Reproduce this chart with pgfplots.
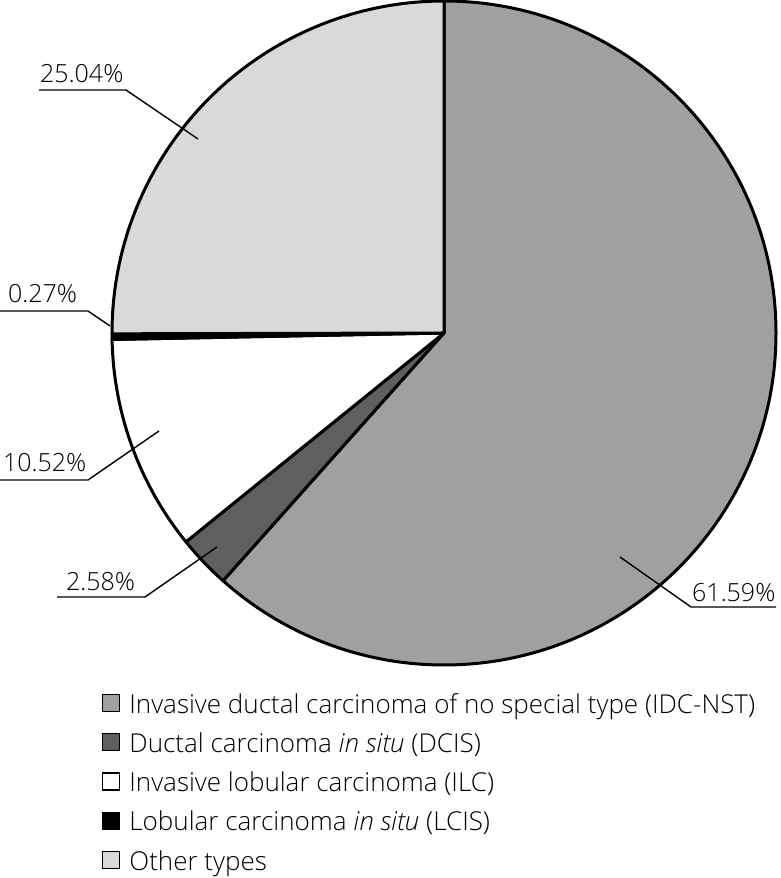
\documentclass[border=0pt]{standalone}
\usepackage{pgfplots}
\pgfplotsset{compat=1.18}
\usepackage{pgfplotstable}
\usepackage{fontspec}
\setmainfont{Open Sans}[UprightFont=* Light, ItalicFont=* Light Italic]

\definecolor{cIDC}{HTML}{A0A0A0}
\definecolor{cDCIS}{HTML}{5F5F5F}
\definecolor{cILC}{HTML}{FFFFFF}
\definecolor{cLCIS}{HTML}{000000}
\definecolor{cOther}{HTML}{D9D9D9}

% share of each type, clockwise from 12 o'clock
\pgfplotstableread{
pct   color
61.59 cIDC
2.58  cDCIS
10.52 cILC
0.27  cLCIS
25.04 cOther
}\piedata

\begin{document}
\begin{tikzpicture}
\begin{axis}[
    width=780pt, height=878pt,
    scale only axis,
    xmin=0, xmax=780, ymin=0, ymax=878,
    hide axis,
    clip=false,
    legend cell align=left,
    legend image code/.code={\draw[#1, line width=1.2pt] (0pt,-7.5pt) rectangle (17pt,9.5pt);},
    legend style={
        at={(axis cs:102,187)}, anchor=north west,
        draw=none, fill=none, inner sep=0pt,
        font=\fontsize{26}{30}\selectfont,
        row sep=14pt,
        /tikz/every odd column/.append style={column sep=7pt},
    },
]
% page = axis box
\path (axis cs:0,0) (axis cs:780,878);

% pie wedges (overlay: the arcs' control points must not widen the page)
\def\angstart{90}
\pgfplotsforeachungrouped \i in {0,...,4}{
    \pgfplotstablegetelem{\i}{pct}\of\piedata \let\p=\pgfplotsretval
    \pgfplotstablegetelem{\i}{color}\of\piedata \let\c=\pgfplotsretval
    \pgfmathsetmacro\angend{\angstart-3.6*\p}
    \edef\temp{\noexpand\filldraw[overlay, fill=\c, draw=black, line width=3pt, line join=round]
        (axis cs:444,545) -- ++(\angstart:332pt)
        arc[start angle=\angstart, end angle=\angend, radius=332pt] -- cycle;}
    \temp
    \global\let\angstart=\angend
}

% percentage labels with leader lines
\begin{scope}[line width=1.4pt, overlay]
\draw (axis cs:39,788) -- (axis cs:126,788) -- (axis cs:198,739);
\draw (axis cs:0,567) -- (axis cs:88,567) -- (axis cs:110,552);
\draw (axis cs:0,398) -- (axis cs:88,398) -- (axis cs:159,447);
\draw (axis cs:57,281) -- (axis cs:145,281) -- (axis cs:217,331);
\draw (axis cs:776,271) -- (axis cs:691,271) -- (axis cs:620,321);
\end{scope}
\begin{scope}[every node/.style={anchor=base west, inner sep=0pt, font=\fontsize{25}{29}\selectfont}]
\node at (axis cs:40,795) {25.04\%};
\node at (axis cs:8,575) {0.27\%};
\node at (axis cs:3,406) {10.52\%};
\node at (axis cs:66,287) {2.58\%};
\node at (axis cs:692,276) {61.59\%};
\end{scope}

\addlegendimage{fill=cIDC}
\addlegendentry{Invasive ductal carcinoma of no special type (IDC-NST)}
\addlegendimage{fill=cDCIS}
\addlegendentry{Ductal carcinoma \textit{in situ} (DCIS)}
\addlegendimage{fill=cILC}
\addlegendentry{Invasive lobular carcinoma (ILC)}
\addlegendimage{fill=cLCIS}
\addlegendentry{Lobular carcinoma \textit{in situ} (LCIS)}
\addlegendimage{fill=cOther}
\addlegendentry{Other types}
\end{axis}
\end{tikzpicture}
\end{document}
